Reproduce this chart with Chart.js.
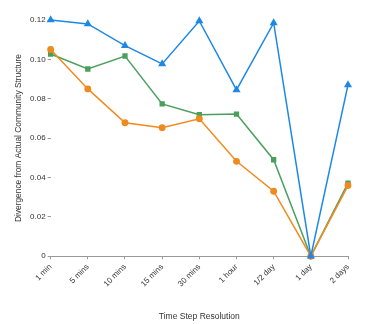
<!DOCTYPE html>
<html>
<head>
<meta charset="utf-8">
<script src="https://cdn.jsdelivr.net/npm/chart.js@4/dist/chart.umd.min.js"></script>
<style>
html,body{margin:0;padding:0;background:#fff;}
#wrap{width:374px;height:324px;position:relative;}
</style>
</head>
<body>
<div id="wrap"><canvas id="c" width="374" height="324"></canvas></div>
<script>
const categories = ["1 min","5 mins","10 mins","15 mins","30 mins","1 hour","1/2 day","1 day","2 days"];
const seriesBlue   = [0.120, 0.118, 0.107, 0.0977, 0.1195, 0.0845, 0.1185, 0, 0.087];
const seriesOrange = [0.105, 0.085, 0.0678, 0.0653, 0.0698, 0.0482, 0.033, 0, 0.0359];
const seriesGreen  = [0.1027, 0.0951, 0.1017, 0.0774, 0.0719, 0.0722, 0.049, 0, 0.0371];
const yTicks = [0, 0.02, 0.04, 0.06, 0.08, 0.1, 0.12];
const xTitle = "Time Step Resolution";
const yTitle = "Divergence from Actual Community Structure";

const FONT = "'Liberation Sans', Arial, sans-serif";
const TXT = "#333";

function ds(data, color, style, radius){
  return {
    data: data,
    borderColor: color,
    backgroundColor: color,
    pointBackgroundColor: color,
    pointBorderColor: color,
    pointStyle: style,
    pointRadius: radius,
    pointHoverRadius: radius,
    borderWidth: 1.5,
    tension: 0,
    fill: false,
    clip: false
  };
}

new Chart(document.getElementById('c'), {
  type: 'line',
  data: {
    labels: categories,
    datasets: [
      ds(seriesBlue, "#1e88e5", "triangle", 3.2),
      ds(seriesOrange, "#f08a1f", "circle", 2.7),
      ds(seriesGreen, "#4b9f5e", "rect", 2.7)
    ]
  },
  options: {
    responsive: false,
    animation: false,
    devicePixelRatio: 1,
    layout: { padding: { top: 20, right: 26, bottom: 2, left: 14 } },
    plugins: { legend: { display: false }, tooltip: { enabled: false } },
    scales: {
      x: {
        offset: false,
        grid: { display: true, drawOnChartArea: false, drawTicks: true, tickLength: 3, color: "#999" },
        border: { display: true, color: "#999", width: 1 },
        ticks: { color: TXT, font: { family: FONT, size: 8 }, minRotation: 45, maxRotation: 45, padding: 3 },
        title: { display: true, text: xTitle, color: TXT, font: { family: FONT, size: 8.5 }, padding: { top: 20, bottom: 0 } }
      },
      y: {
        min: 0,
        max: 0.12,
        afterBuildTicks: (axis) => { axis.ticks = yTicks.map(v => ({ value: v })); },
        grid: { display: true, drawOnChartArea: false, drawTicks: true, tickLength: 3, color: "#999" },
        border: { display: false },
        ticks: { color: TXT, font: { family: FONT, size: 8 }, padding: 2 },
        title: { display: true, text: yTitle, color: TXT, font: { family: FONT, size: 8.4 }, padding: { top: 0, bottom: 4 } }
      }
    }
  }
});
</script>
</body>
</html>
